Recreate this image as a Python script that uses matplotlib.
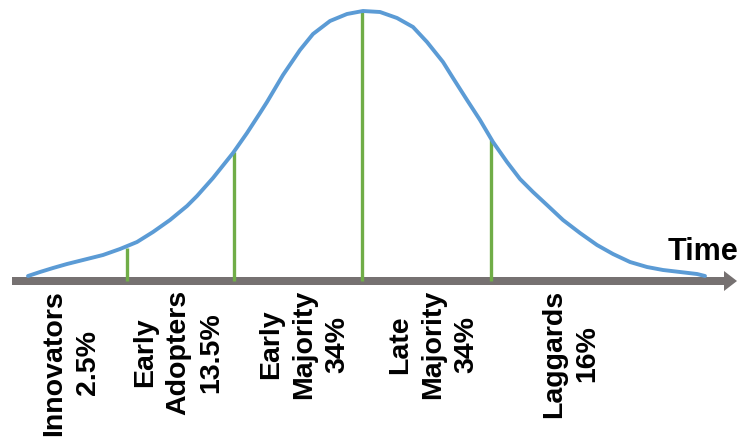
import matplotlib.pyplot as plt
from matplotlib.patches import FancyArrow

# adoption curve (x = time position, y = height above the time axis)
curve_x = [28, 40, 53, 67, 87, 103, 120, 137, 153, 170, 187, 197, 213, 233, 247, 260,
           267, 283, 300, 313, 330, 347, 363, 380, 397, 413, 427, 443, 453, 467, 480,
           493, 507, 520, 533, 547, 563, 580, 597, 613, 630, 647, 663, 680, 697, 705]
curve_y = [5, 9, 13, 17, 22, 26, 32, 39, 49, 61, 75, 85, 103, 128, 148, 168,
           179, 206, 231, 247, 260, 267, 270, 269, 263, 254, 239, 219, 203, 181, 161,
           139, 119, 102, 89, 76, 61, 48, 36, 27, 19, 14, 11, 9, 7, 5]

# segment boundaries (green lines) and their heights
divider_x = [127, 234, 362, 491]
divider_y = [33, 129, 269, 141]

categories = ["Innovators\n2.5%", "Early\nAdopters\n13.5%", "Early\nMajority\n34%",
              "Late\nMajority\n34%", "Laggards\n16%"]
category_x = [71, 178, 304, 433, 571]

blue = "#5B9BD5"
green = "#70AD47"
grey = "#767171"
fs = 20.5

fig = plt.figure(figsize=(7.4, 4.41), dpi=100)
ax = fig.add_axes([0, 0, 1, 1])
ax.set_xlim(0, 740)
ax.set_ylim(-160, 281)
ax.set_axis_off()

# time axis arrow
ax.add_patch(FancyArrow(12, 0, 725, 0, width=8, head_width=20, head_length=13,
                        length_includes_head=True, color=grey, lw=0, zorder=1))

ax.vlines(divider_x, 0, divider_y, colors=green, lw=2.4, zorder=2)
ax.plot(curve_x, curve_y, color=blue, lw=2.8, solid_joinstyle='round',
        solid_capstyle='round', zorder=3)

ax.text(738, 21, "Time", ha='right', va='baseline', fontsize=22, weight='bold',
        family='Liberation Sans')

for label, x in zip(categories, category_x):
    ax.text(x, -9, label, rotation=90, ha='center', va='top', multialignment='center',
            fontsize=fs, weight='bold', family='Liberation Sans', linespacing=1.35)

fig.savefig("out.png", dpi=100)
